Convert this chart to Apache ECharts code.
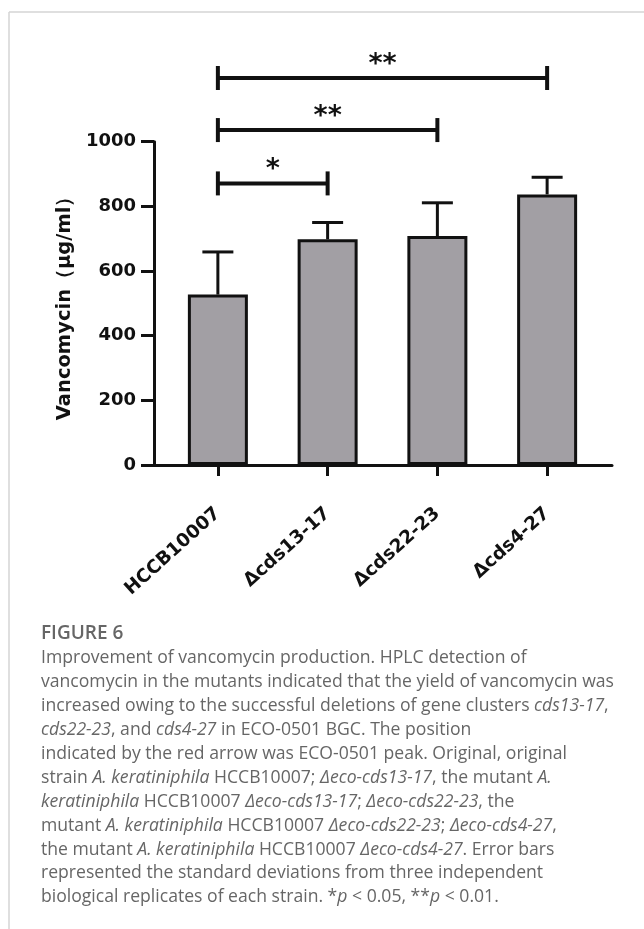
<!DOCTYPE html>
<html><head><meta charset="utf-8">
<script src="https://cdn.jsdelivr.net/npm/echarts@6/dist/echarts.min.js"></script>
<style>html,body{margin:0;padding:0;background:#fff}#c{width:644px;height:929px}</style>
</head><body><div id="c"></div>
<script>
// ---- data ----
const categories = ['HCCB10007', 'Δcds13-17', 'Δcds22-23', 'Δcds4-27'];
const means = [527, 698, 708, 837];
const sds = [132, 52, 103, 53];
const yMin = 0, yMax = 1000, yStep = 200;
const sigFrom = [0, 0, 0];
const sigTo = [3, 2, 1];
const sigLabels = ['**', '**', '*'];
const sigLevels = [1197, 1036, 871];
const yTitle = 'Vancomycin（μg/ml）';
const captionTitle = 'FIGURE 6';
const captionLines = [
  'Improvement of vancomycin production. HPLC detection of',
  'vancomycin in the mutants indicated that the yield of vancomycin was',
  'increased owing to the successful deletions of gene clusters {i|cds13-17},',
  '{i|cds22-23}, and {i|cds4-27} in ECO-0501 BGC. The position',
  'indicated by the red arrow was ECO-0501 peak. Original, original',
  'strain {i|A. keratiniphila} HCCB10007; {i|Δeco-cds13-17}, the mutant {i|A.}',
  '{i|keratiniphila} HCCB10007 {i|Δeco-cds13-17}; {i|Δeco-cds22-23}, the',
  'mutant {i|A. keratiniphila} HCCB10007 {i|Δeco-cds22-23}; {i|Δeco-cds4-27},',
  'the mutant {i|A. keratiniphila} HCCB10007 {i|Δeco-cds4-27}. Error bars',
  'represented the standard deviations from three independent',
  'biological replicates of each strain. *{i|p} < 0.05, **{i|p} < 0.01.'
];

// ---- chart ----
const INK = '#111';
const CAP = '#666';
const chart = echarts.init(document.getElementById('c'), null, {renderer: 'canvas'});

const captionGraphics = [
  {type: 'line', shape: {x1: 9, y1: 12, x2: 644, y2: 12}, style: {stroke: '#d4d4d4', lineWidth: 1.5}},
  {type: 'line', shape: {x1: 9, y1: 12, x2: 9, y2: 929}, style: {stroke: '#d4d4d4', lineWidth: 1.5}},
  {type: 'text', x: 41, y: 634, style: {text: captionTitle, fill: CAP, font: '600 19px "Open Sans"', verticalAlign: 'middle'}}
];
captionLines.forEach((t, i) => {
  captionGraphics.push({
    type: 'text', x: 41, y: 658.3 + i * 23.9,
    style: {
      text: t, fill: CAP, fontFamily: 'Open Sans', fontSize: 17.6, verticalAlign: 'middle',
      rich: {i: {fontStyle: 'italic', fontFamily: 'Open Sans', fontSize: 17.6, fill: CAP}}
    }
  });
});

const option = {
  animation: false,
  backgroundColor: '#fff',
  grid: [
    {left: 154, right: 32, top: 141.7, bottom: 464},
    {left: 163, width: 439, top: 141.7, bottom: 464}
  ],
  xAxis: [
    {type: 'value', gridIndex: 0, min: 0, max: 1,
     axisLine: {show: true, lineStyle: {color: INK, width: 3}},
     axisTick: {show: false}, axisLabel: {show: false}, splitLine: {show: false}},
    {type: 'category', gridIndex: 1, data: categories,
     axisLine: {show: false},
     axisTick: {show: true, alignWithLabel: true, length: 11, lineStyle: {color: INK, width: 3}},
     axisLabel: {interval: 0, rotate: 42, margin: 46, color: INK,
                 fontFamily: 'DejaVu Sans', fontWeight: 'bold', fontSize: 18.5}}
  ],
  yAxis: [
    {type: 'value', gridIndex: 0, min: yMin, max: yMax, interval: yStep,
     name: yTitle, nameLocation: 'middle', nameGap: 78,
     nameTextStyle: {color: INK, fontFamily: 'DejaVu Sans', fontWeight: 'bold', fontSize: 19.5},
     axisLine: {show: true, lineStyle: {color: INK, width: 3}},
     axisTick: {show: true, length: 13, lineStyle: {color: INK, width: 3}},
     axisLabel: {margin: 18, color: INK, fontFamily: 'DejaVu Sans', fontWeight: 'bold', fontSize: 18,
                 formatter: v => String(v)},
     splitLine: {show: false}},
    {type: 'value', gridIndex: 1, min: yMin, max: yMax, show: false}
  ],
  series: [
    {type: 'bar', xAxisIndex: 1, yAxisIndex: 1, data: means, barWidth: 60,
     itemStyle: {color: '#a29fa4', borderColor: INK, borderWidth: 3}},
    {type: 'custom', xAxisIndex: 1, yAxisIndex: 1, clip: false, z: 1,
     data: means.map((m, i) => [i, m, sds[i]]),
     encode: {x: 0, y: 1},
     renderItem(params, api) {
       const x = api.value(0), m = api.value(1), s = api.value(2);
       const b = api.coord([x, m]), t = api.coord([x, m + s]);
       const hw = 15.5;
       return {type: 'group', children: [
         {type: 'line', shape: {x1: b[0], y1: b[1], x2: t[0], y2: t[1]}, style: {stroke: INK, lineWidth: 3}},
         {type: 'line', shape: {x1: t[0] - hw, y1: t[1], x2: t[0] + hw, y2: t[1]}, style: {stroke: INK, lineWidth: 3}}
       ]};
     }},
    {type: 'custom', xAxisIndex: 1, yAxisIndex: 1, clip: false,
     data: sigFrom.map((f, i) => [f, sigTo[i], sigLevels[i], i]),
     encode: {x: 0, y: 2},
     renderItem(params, api) {
       const p1 = api.coord([api.value(0), api.value(2)]);
       const p2 = api.coord([api.value(1), api.value(2)]);
       const lab = sigLabels[api.value(3)];
       const h = 12, y = p1[1];
       const st = {stroke: INK, lineWidth: 4};
       return {type: 'group', children: [
         {type: 'line', shape: {x1: p1[0], y1: y, x2: p2[0], y2: y}, style: st},
         {type: 'line', shape: {x1: p1[0], y1: y - h, x2: p1[0], y2: y + h}, style: st},
         {type: 'line', shape: {x1: p2[0], y1: y - h, x2: p2[0], y2: y + h}, style: st},
         {type: 'text', x: (p1[0] + p2[0]) / 2, y: y - 13,
          style: {text: lab, fill: INK, font: 'bold 27px "DejaVu Sans"', align: 'center', verticalAlign: 'middle'}}
       ]};
     }}
  ],
  graphic: captionGraphics
};
chart.setOption(option);
</script>
</body></html>
